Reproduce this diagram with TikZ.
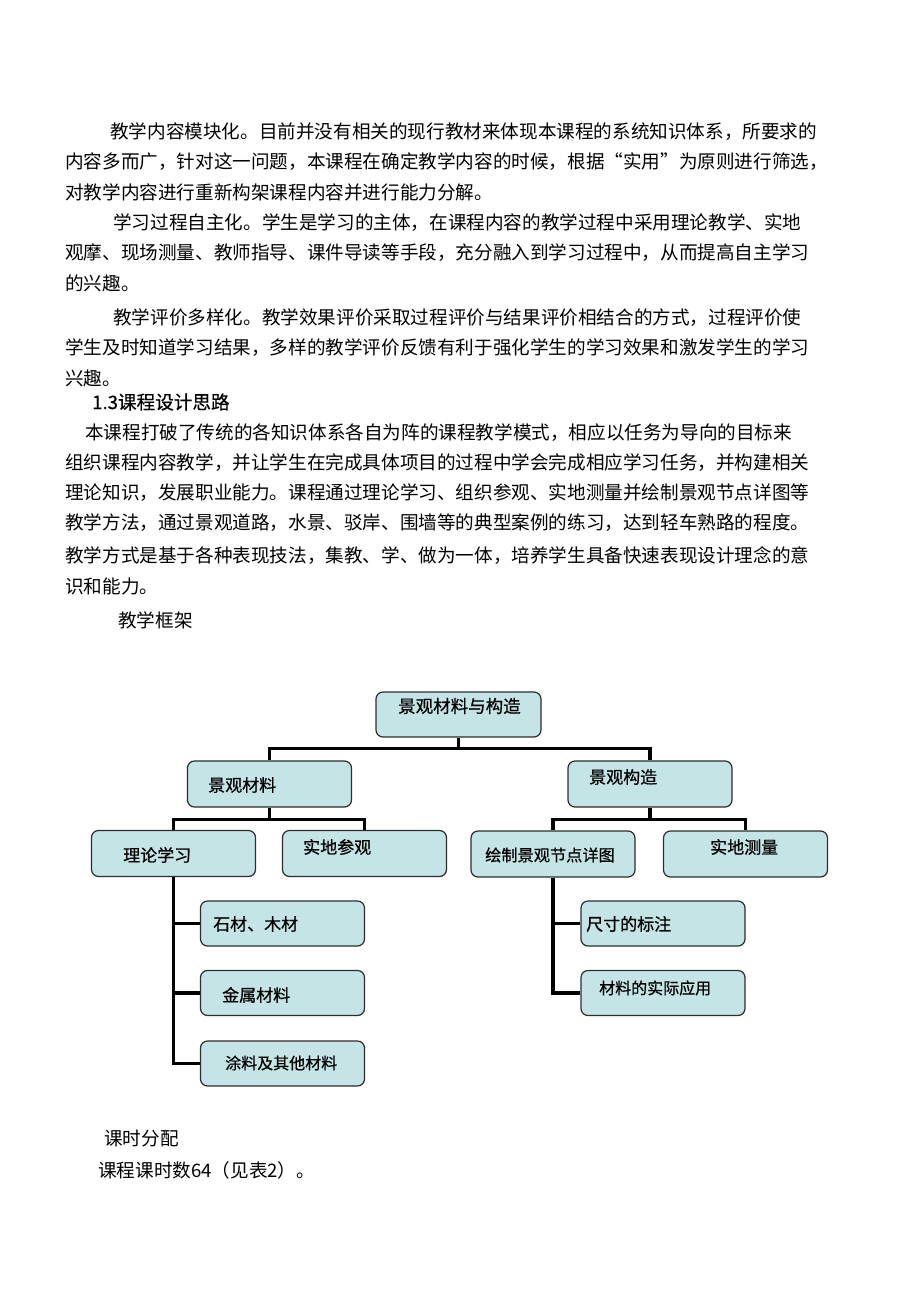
\documentclass[tikz,border=0pt]{standalone}
\usepackage{fontspec}
\usepackage{xcolor}
\usepackage{tikz}
\newfontfamily\cjk{Noto Sans CJK SC}
\newfontfamily\cjkm{Noto Sans CJK SC}[FakeBold=0.6]
\definecolor{boxfill}{RGB}{196,228,230}
\definecolor{boxline}{RGB}{45,45,45}

\begin{document}
\begin{tikzpicture}[x=1pt, y=-1pt, every node/.style={inner sep=0pt, text=black},
  line/.style={anchor=west, font=\cjk\fontsize{18.6}{18.6}\selectfont},
  box/.style={draw=boxline, line width=1.2pt, fill=boxfill, rounded corners=7pt, minimum width=164pt, minimum height=46pt},
  lbl/.style={anchor=west, font=\cjkm\fontsize{17}{17}\selectfont},
  link/.style={line width=3.3pt}]
  \fill[white] (0,0) rectangle (920,1303);
  \useasboundingbox (0,0) rectangle (920,1303);

  \node[line] (l1) at (110,132) {教学内容模块化。目前并没有相关的现行教材来体现本课程的系统知识体系，所要求的};
  \node[line] (l2) at (65,162) {内容多而广，针对这一问题，本课程在确定教学内容的时候，根据“实用”为原则进行筛选，};
  \node[line] (l3) at (65,192) {对教学内容进行重新构架课程内容并进行能力分解。};
  \node[line] (l4) at (113,223) {学习过程自主化。学生是学习的主体，在课程内容的教学过程中采用理论教学、实地};
  \node[line] (l5) at (65,253) {观摩、现场测量、教师指导、课件导读等手段，充分融入到学习过程中，从而提高自主学习};
  \node[line] (l6) at (65,283) {的兴趣。};
  \node[line] (l7) at (113,318) {教学评价多样化。教学效果评价采取过程评价与结果评价相结合的方式，过程评价使};
  \node[line] (l8) at (65,348) {学生及时知道学习结果，多样的教学评价反馈有利于强化学生的学习效果和激发学生的学习};
  \node[line] (l9) at (65,378) {兴趣。};
  \node[line, font=\cjkm\fontsize{18.6}{18.6}\selectfont] (l10) at (92,402) {1.3课程设计思路};
  \node[line] (l11) at (85,433) {本课程打破了传统的各知识体系各自为阵的课程教学模式，相应以任务为导向的目标来};
  \node[line] (l12) at (65,463) {组织课程内容教学，并让学生在完成具体项目的过程中学会完成相应学习任务，并构建相关};
  \node[line] (l13) at (65,493) {理论知识，发展职业能力。课程通过理论学习、组织参观、实地测量并绘制景观节点详图等};
  \node[line] (l14) at (65,523) {教学方法，通过景观道路，水景、驳岸、围墙等的典型案例的练习，达到轻车熟路的程度。};
  \node[line] (l15) at (65,556) {教学方式是基于各种表现技法，集教、学、做为一体，培养学生具备快速表现设计理念的意};
  \node[line] (l16) at (65,586) {识和能力。};
  \node[line] (l17) at (118,620) {教学框架};
  \node[line] (l18) at (104,1138) {课时分配};
  \node[line] (l19) at (98,1170) {课程课时数64（见表2）。};

  \node[box, minimum width=165pt, minimum height=45pt] (root) at (458.5,714.5) {};
  \node[box] (mat) at (269.5,784) {};
  \node[box] (con) at (650,784) {};
  \node[box] (theo) at (173.5,853.5) {};
  \node[box] (visit) at (364.5,853.5) {};
  \node[box] (drw) at (553,854) {};
  \node[box] (meas) at (745.5,854) {};
  \node[box, minimum height=45pt] (stone) at (282.5,923.5) {};
  \node[box, minimum height=45pt] (metal) at (282.5,993) {};
  \node[box, minimum height=45pt] (paint) at (282.5,1063.5) {};
  \node[box, minimum height=45pt] (dim) at (663,923.5) {};
  \node[box, minimum height=45pt] (app) at (663,993) {};

  \node[lbl, font=\cjkm\fontsize{17.5}{17.5}\selectfont] (root-t) at (398,706) {景观材料与构造};
  \node[lbl] (mat-t) at (208,785) {景观材料};
  \node[lbl] (con-t) at (589,777) {景观构造};
  \node[lbl] (theo-t) at (123,855) {理论学习};
  \node[lbl] (visit-t) at (303,847) {实地参观};
  \node[lbl, font=\cjkm\fontsize{16.2}{16.2}\selectfont] (drw-t) at (485,855) {绘制景观节点详图};
  \node[lbl] (meas-t) at (710,847) {实地测量};
  \node[lbl] (stone-t) at (213,924) {石材、木材};
  \node[lbl] (metal-t) at (222,995) {金属材料};
  \node[lbl, font=\cjkm\fontsize{16}{16}\selectfont] (paint-t) at (225,1063) {涂料及其他材料};
  \node[lbl] (dim-t) at (586,924) {尺寸的标注};
  \node[lbl, font=\cjkm\fontsize{16}{16}\selectfont] (app-t) at (599,988) {材料的实际应用};

  \draw[link] (root.south) -- ++(0,11) -| (mat.north);
  \draw[link] (root.south) -- ++(0,11) -| (con.north);
  \draw[link] (mat.south) -- ++(0,12) -| (theo.north);
  \draw[link] (mat.south) -- ++(0,12) -| (visit.north);
  \draw[link] (con.south) -- ++(0,12) -| (drw.north);
  \draw[link] (con.south) -- ++(0,12) -| (meas.north);
  \draw[link] (theo.south) |- (stone.west);
  \draw[link] (theo.south) |- (metal.west);
  \draw[link] (theo.south) |- (paint.west);
  \draw[link] (drw.south) |- (dim.west);
  \draw[link] (drw.south) |- (app.west);
\end{tikzpicture}
\end{document}
